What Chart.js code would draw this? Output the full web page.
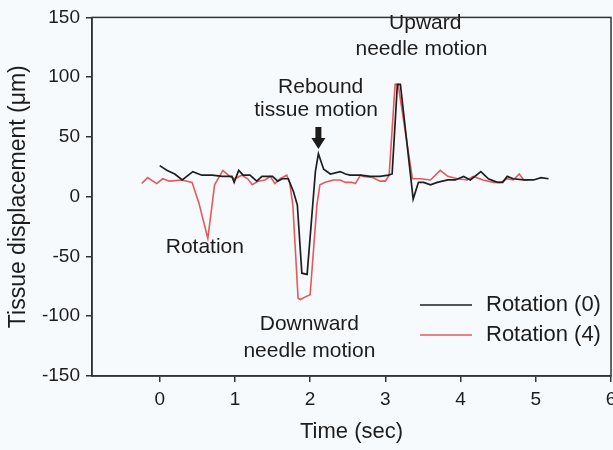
<!DOCTYPE html>
<html>
<head>
<meta charset="utf-8">
<script src="https://cdn.jsdelivr.net/npm/chart.js@4/dist/chart.umd.min.js"></script>
<style>
    html, body { margin: 0; padding: 0; background: #f7fafd; }
    #wrap { width: 613px; height: 450px; }
</style>
</head>
<body>
<div id="wrap"><canvas id="dispChart" width="613" height="450"></canvas></div>
<script>
// Tissue displacement traces (time in sec, displacement in µm)
const timeRot0 = [0, 0.1, 0.2, 0.3, 0.44, 0.56, 0.7, 0.83, 0.96, 0.99, 1.05, 1.11, 1.2, 1.29, 1.36,
    1.5, 1.57, 1.63, 1.71, 1.78, 1.83, 1.89, 1.96, 2.07, 2.11, 2.18, 2.27, 2.4, 2.47, 2.53,
    2.67, 2.8, 2.93, 3.04, 3.09, 3.16, 3.2, 3.37, 3.44, 3.51, 3.6, 3.69, 3.83, 3.93, 4.04,
    4.13, 4.27, 4.37, 4.49, 4.56, 4.62, 4.7, 4.84, 4.97, 5.07, 5.17];
const dispRot0 = [26, 22, 19, 14, 21, 18, 18, 17, 17, 12, 22, 18, 18, 13, 17,
    17, 13, 15, 15, 4, -7, -64, -65, 21, 36, 23, 19, 21, 19, 18,
    18, 17, 17, 18, 19, 94, 94, -2, 12, 12, 10, 12, 14, 14, 17,
    14, 21, 15, 12, 12, 17, 15, 14, 14, 16, 15];

const timeRot4 = [-0.24, -0.16, -0.04, 0.04, 0.13, 0.29, 0.43, 0.52, 0.64, 0.73, 0.84, 0.93, 1.0, 1.09, 1.17,
    1.23, 1.31, 1.4, 1.47, 1.53, 1.6, 1.69, 1.73, 1.77, 1.84, 1.87, 1.93, 2.0, 2.09, 2.13,
    2.2, 2.31, 2.4, 2.47, 2.55, 2.6, 2.67, 2.71, 2.83, 2.93, 3.0, 3.05, 3.13, 3.17, 3.36,
    3.47, 3.6, 3.73, 3.83, 3.96, 4.09, 4.17, 4.3, 4.44, 4.53, 4.62, 4.7, 4.78, 4.84, 4.9];
const dispRot4 = [11, 16, 11, 15, 13, 14, 12, -5, -35, 10, 22, 17, 15, 18, 15,
    10, 13, 14, 17, 11, 15, 18, 11, -7, -85, -86, -84, -82, -7, 10,
    12, 14, 14, 12, 12, 11, 18, 17, 16, 13, 13, 18, 94, 94, 15,
    15, 14, 22, 17, 15, 14, 17, 14, 12, 12, 15, 14, 19, 14, 14];

const xTicks = [0, 1, 2, 3, 4, 5, 6];
const yTicks = [-150, -100, -50, 0, 50, 100, 150];

// Callout text, anchored in data coordinates [time, displacement]
const notes = [
    { text: 'Upward', at: [3.53, 145] },
    { text: 'needle motion', at: [3.48, 123] },
    { text: 'Rebound', at: [2.14, 92] },
    { text: 'tissue motion', at: [2.08, 72] },
    { text: 'Rotation', at: [0.6, -42] },
    { text: 'Downward', at: [1.99, -107] },
    { text: 'needle motion', at: [1.99, -129] }
];
const arrowAt = [2.11, 40];

const FONT = "'Liberation Sans', Arial, sans-serif";
const INK = '#1c1c1c';

function toPoints(xs, ys) {
    return xs.map((x, i) => ({ x: x, y: ys[i] }));
}

const framePlugin = {
    id: 'frame',
    beforeDraw(chart) {
        const ctx = chart.ctx;
        ctx.save();
        ctx.fillStyle = '#f7fafd';
        ctx.fillRect(0, 0, chart.width, chart.height);
        ctx.restore();
    },
    afterDraw(chart) {
        const { ctx, chartArea: a, scales } = chart;
        ctx.save();
        ctx.strokeStyle = '#333';
        ctx.lineWidth = 1.5;
        ctx.strokeRect(a.left, a.top, a.right - a.left, a.bottom - a.top);

        // callouts
        ctx.fillStyle = INK;
        ctx.font = '21px ' + FONT;
        ctx.textAlign = 'center';
        ctx.textBaseline = 'middle';
        notes.forEach(n => {
            ctx.fillText(n.text, scales.x.getPixelForValue(n.at[0]), scales.y.getPixelForValue(n.at[1]));
        });

        // down arrow above the rebound peak
        const ax = scales.x.getPixelForValue(arrowAt[0]);
        const ay = scales.y.getPixelForValue(arrowAt[1]);
        ctx.beginPath();
        ctx.rect(ax - 3, ay - 22, 6, 12);
        ctx.moveTo(ax - 7, ay - 11);
        ctx.lineTo(ax + 7, ay - 11);
        ctx.lineTo(ax, ay);
        ctx.closePath();
        ctx.fill();

        // legend
        const items = chart.data.datasets;
        const lx = 420, ly = 305, gap = 30;
        ctx.textAlign = 'left';
        ctx.font = '22px ' + FONT;
        items.forEach((ds, i) => {
            const y = ly + i * gap;
            ctx.strokeStyle = ds.borderColor;
            ctx.lineWidth = 1.5;
            ctx.beginPath();
            ctx.moveTo(lx, y);
            ctx.lineTo(lx + 52, y);
            ctx.stroke();
            ctx.fillStyle = INK;
            ctx.fillText(ds.label, lx + 66, y);
        });
        ctx.restore();
    }
};

const ctx = document.getElementById('dispChart').getContext('2d');
new Chart(ctx, {
    type: 'line',
    data: {
        datasets: [
            {
                label: 'Rotation (0)',
                data: toPoints(timeRot0, dispRot0),
                borderColor: '#1e1e1e',
                borderWidth: 1.7,
                pointRadius: 0,
                tension: 0,
                fill: false
            },
            {
                label: 'Rotation (4)',
                data: toPoints(timeRot4, dispRot4),
                borderColor: '#e5585c',
                borderWidth: 1.6,
                pointRadius: 0,
                tension: 0,
                fill: false
            }
        ]
    },
    options: {
        responsive: false,
        animation: false,
        layout: { padding: { top: 16, right: 2, left: 0, bottom: 0 } },
        plugins: {
            legend: { display: false },
            tooltip: { enabled: false }
        },
        scales: {
            x: {
                type: 'linear',
                min: -0.9,
                max: 6,
                afterBuildTicks: scale => { scale.ticks = xTicks.map(v => ({ value: v })); },
                afterFit: scale => {
                    scale.height = 74;
                    // let the last label run off the edge instead of shrinking the plot
                    scale.paddingRight = 0;
                    scale.paddingLeft = 0;
                },
                border: { color: '#333', width: 1.5 },
                grid: { drawOnChartArea: false, color: '#333', lineWidth: 1.5, tickLength: 6 },
                ticks: { color: INK, font: { size: 19, family: FONT }, padding: 6, maxRotation: 0 },
                title: {
                    display: true,
                    text: 'Time (sec)',
                    color: INK,
                    font: { size: 22, family: FONT },
                    padding: { top: 0, bottom: 5 }
                }
            },
            y: {
                min: -150,
                max: 150,
                afterBuildTicks: scale => { scale.ticks = yTicks.map(v => ({ value: v })); },
                afterFit: scale => { scale.width = 92; },
                border: { color: '#333', width: 1.5 },
                grid: { drawOnChartArea: false, color: '#333', lineWidth: 1.5, tickLength: 6 },
                ticks: { color: INK, font: { size: 19, family: FONT }, padding: 6 },
                title: {
                    display: true,
                    text: 'Tissue displacement (μm)',
                    color: INK,
                    font: { size: 23, family: FONT },
                    padding: { top: 5, bottom: 0 }
                }
            }
        }
    },
    plugins: [framePlugin]
});
</script>
</body>
</html>
